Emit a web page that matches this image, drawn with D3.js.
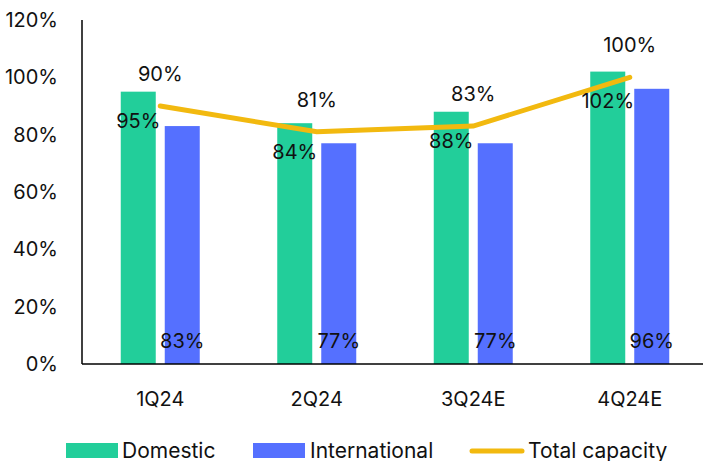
<!DOCTYPE html>
<html>
<head>
<meta charset="utf-8">
<script src="https://cdn.jsdelivr.net/npm/d3@7"></script>
<style>
  body { margin: 0; background: #fff; }
  text { font-family: Inter, "Noto Sans", sans-serif; fill: #111; }
</style>
</head>
<body>
<svg width="703" height="461"></svg>
<script>
var quarters = ["1Q24", "2Q24", "3Q24E", "4Q24E"];
var domestic = [95, 84, 88, 102];
var international = [83, 77, 77, 96];
var total = [90, 81, 83, 100];
var yTicks = [0, 20, 40, 60, 80, 100, 120];

var svg = d3.select("svg"),
    mLeft = 82, mRight = 708, mTop = 20, mBottom = 364;

var x = d3.scaleBand()
    .domain(quarters)
    .range([mLeft, mRight]);

var y = d3.scaleLinear()
    .domain([0, 120])
    .range([mBottom, mTop]);

var barW = 35, gap = 9;
var fmt = d => d + "%";
var cx = q => x(q) + x.bandwidth() / 2;

// y tick labels
svg.append("g").selectAll("text")
    .data(yTicks)
    .join("text")
    .attr("x", 58)
    .attr("y", d => y(d))
    .attr("dy", "0.35em")
    .attr("text-anchor", "end")
    .style("font-size", "20px")
    .text(fmt);

// bars
var g = svg.append("g");
g.selectAll(".dom")
    .data(domestic)
    .join("rect")
    .attr("x", (d, i) => cx(quarters[i]) - gap / 2 - barW)
    .attr("y", d => y(d))
    .attr("width", barW)
    .attr("height", d => y(0) - y(d))
    .attr("fill", "#22CE9A");

g.selectAll(".intl")
    .data(international)
    .join("rect")
    .attr("x", (d, i) => cx(quarters[i]) + gap / 2)
    .attr("y", d => y(d))
    .attr("width", barW)
    .attr("height", d => y(0) - y(d))
    .attr("fill", "#5570FF");

// axis lines
svg.append("line")
    .attr("x1", mLeft).attr("x2", mLeft)
    .attr("y1", mTop).attr("y2", mBottom)
    .attr("stroke", "#000").attr("stroke-width", 1.5);
svg.append("line")
    .attr("x1", mLeft).attr("x2", 703)
    .attr("y1", mBottom).attr("y2", mBottom)
    .attr("stroke", "#000").attr("stroke-width", 1.5);

// x labels
svg.append("g").selectAll("text")
    .data(quarters)
    .join("text")
    .attr("x", d => cx(d))
    .attr("y", 406)
    .attr("text-anchor", "middle")
    .style("font-size", "20px")
    .text(d => d);

// total line
var line = d3.line()
    .x((d, i) => cx(quarters[i]))
    .y(d => y(d));

svg.append("path")
    .attr("d", line(total))
    .attr("fill", "none")
    .attr("stroke", "#F2B90F")
    .attr("stroke-width", 5)
    .attr("stroke-linecap", "round");

// value labels
svg.append("g").selectAll("text")
    .data(domestic)
    .join("text")
    .attr("x", (d, i) => cx(quarters[i]) - gap / 2 - barW / 2)
    .attr("y", d => y(d) + 36)
    .attr("text-anchor", "middle")
    .style("font-size", "20px")
    .text(fmt);

svg.append("g").selectAll("text")
    .data(international)
    .join("text")
    .attr("x", (d, i) => cx(quarters[i]) + gap / 2 + barW / 2)
    .attr("y", mBottom - 16)
    .attr("text-anchor", "middle")
    .style("font-size", "20px")
    .text(fmt);

svg.append("g").selectAll("text")
    .data(total)
    .join("text")
    .attr("x", (d, i) => cx(quarters[i]))
    .attr("y", d => y(d) - 25)
    .attr("text-anchor", "middle")
    .style("font-size", "20px")
    .text(fmt);

// legend
var leg = svg.append("g");
leg.append("rect").attr("x", 66).attr("y", 443).attr("width", 52).attr("height", 15).attr("fill", "#22CE9A");
leg.append("text").attr("x", 122).attr("y", 451).attr("dy", "0.35em").style("font-size", "21px").text("Domestic");
leg.append("rect").attr("x", 253).attr("y", 443).attr("width", 52).attr("height", 15).attr("fill", "#5570FF");
leg.append("text").attr("x", 310).attr("y", 451).attr("dy", "0.35em").style("font-size", "21px").text("International");
leg.append("line").attr("x1", 472).attr("x2", 522).attr("y1", 451).attr("y2", 451)
    .attr("stroke", "#F2B90F").attr("stroke-width", 5).attr("stroke-linecap", "round");
leg.append("text").attr("x", 528).attr("y", 451).attr("dy", "0.35em").style("font-size", "21px").text("Total capacity");
</script>
</body>
</html>
